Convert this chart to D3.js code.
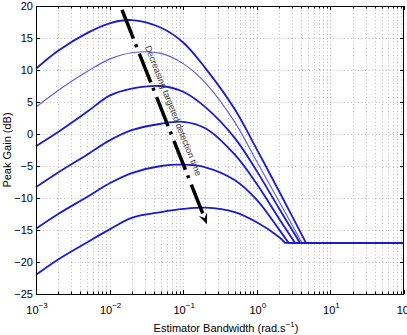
<!DOCTYPE html>
<html>
<head>
<meta charset="utf-8">
<script src="https://cdn.jsdelivr.net/npm/d3@7"></script>
<style>
  body { margin: 0; background: #fff; }
  svg { display: block; font-family: "Liberation Sans", Arial, sans-serif; }
</style>
</head>
<body>
<svg id="chart" width="407" height="335"></svg>
<script>
// sampled bandwidths (rad/s) shared by every curve
var bandwidth = [0.001, 0.002, 0.005, 0.01, 0.02, 0.05, 0.1, 0.2, 0.5, 1, 2];

// peak gain (dB) of each curve at those bandwidths, top to bottom
var gain1 = [10.2, 13.0, 15.8, 17.3, 17.8, 16.6, 14.3, 10.3, 3.9, -2.4, -8.9];
var gain2 = [4.2, 6.8, 9.8, 11.7, 12.7, 12.6, 11.0, 8.0, 1.9, -4.3, -10.5];
var gain3 = [-1.9, 0.3, 3.5, 6.0, 7.1, 7.5, 6.6, 4.2, -0.6, -5.8, -11.6];
var gain4 = [-8.3, -6.0, -3.2, -1.0, 0.6, 1.6, 1.9, 0.9, -3.2, -7.8, -13.2];
var gain5 = [-14.8, -12.5, -9.8, -7.7, -6.1, -5.0, -4.8, -5.2, -7.2, -10.3, -14.9];
var gain6 = [-22.0, -19.6, -16.9, -14.9, -13.1, -12.2, -11.7, -11.5, -12.2, -13.8, -16.1];

// bandwidth where each curve meets the floor, and the floor itself
var cornerBandwidth = [4.66, 4.1, 3.86, 3.3, 2.7, 2.42];
var floorGain = -17;
var thinCurve = [false, true, false, false, false, false];

var xTicks = [1e-3, 1e-2, 1e-1, 1e0, 1e1, 1e2];
var xTickExp = ['\u22123', '\u22122', '\u22121', '0', '1', '2'];
var yTicks = [-25, -20, -15, -10, -5, 0, 5, 10, 15, 20];

// annotation arrow, in data units: [bandwidth, gain]
var arrowStart = [0.01474, 19.4];
var arrowEnd = [0.2106, -14.1];
var noteAnchor = [0.0300, 13.6];
var noteText = 'Decreasing targeted detection time';

var svg = d3.select('#chart'),
    margin = {top: 6, right: 3, bottom: 41, left: 36},
    width = +svg.attr('width') - margin.left - margin.right,
    height = +svg.attr('height') - margin.top - margin.bottom,
    g = svg.append('g').attr('transform', 'translate(' + margin.left + ',' + margin.top + ')');

var x = d3.scaleLog().domain([1e-3, 1e2]).range([0, width]);
var y = d3.scaleLinear().domain([-25, 20]).range([height, 0]);

var minorTicks = [];
xTicks.slice(0, -1).forEach(function(t) {
  for (var k = 2; k < 10; k++) minorTicks.push(k * t);
});

// dotted grid
var grid = g.append('g').attr('stroke', '#acacac').attr('stroke-width', 0.8)
    .attr('stroke-dasharray', '1,2.5');
grid.selectAll('.vg')
    .data(xTicks.slice(1, -1).concat(minorTicks)).enter()
    .append('line')
    .attr('x1', function(d) { return Math.round(x(d)) + 0.5; })
    .attr('x2', function(d) { return Math.round(x(d)) + 0.5; })
    .attr('y1', 0).attr('y2', height);
grid.selectAll('.hg')
    .data(yTicks.slice(1, -1)).enter()
    .append('line')
    .attr('x1', 0).attr('x2', width)
    .attr('y1', function(d) { return Math.round(y(d)) + 0.5; })
    .attr('y2', function(d) { return Math.round(y(d)) + 0.5; });

// curves
var gains = [gain1, gain2, gain3, gain4, gain5, gain6];
var line = d3.line()
    .x(function(d) { return x(d[0]); })
    .y(function(d) { return y(d[1]); })
    .curve(d3.curveCatmullRom.alpha(0.5));

g.append('g').attr('fill', 'none')
  .selectAll('path')
  .data(gains).enter()
  .append('path')
    .attr('d', function(gs, i) {
      var pts = bandwidth.map(function(b, j) { return [b, gs[j]]; });
      pts.push([cornerBandwidth[i], floorGain]);
      return line(pts) + 'L' + x(1e2) + ',' + y(floorGain);
    })
    .attr('stroke', function(d, i) { return thinCurve[i] ? '#5a5ae2' : '#1a1ad6'; })
    .attr('stroke-width', function(d, i) { return thinCurve[i] ? 1.1 : 1.8; })
    .attr('stroke-linejoin', 'round');

// arrow
var ax0 = x(arrowStart[0]), ay0 = y(arrowStart[1]),
    ax1 = x(arrowEnd[0]), ay1 = y(arrowEnd[1]);
var len = Math.sqrt((ax1 - ax0) * (ax1 - ax0) + (ay1 - ay0) * (ay1 - ay0)),
    ux = (ax1 - ax0) / len, uy = (ay1 - ay0) / len;

g.append('line')
    .attr('x1', ax0).attr('y1', ay0)
    .attr('x2', ax1 - ux * 7).attr('y2', ay1 - uy * 7)
    .attr('stroke', '#000')
    .attr('stroke-width', 3.5)
    .attr('stroke-dasharray', '31,6,3,7');

var hl = 11, hw = 4.5;
g.append('path')
    .attr('d', 'M' + ax1 + ',' + ay1 +
      'L' + (ax1 - ux * hl - uy * hw) + ',' + (ay1 - uy * hl + ux * hw) +
      'L' + (ax1 - ux * hl * 0.6) + ',' + (ay1 - uy * hl * 0.6) +
      'L' + (ax1 - ux * hl + uy * hw) + ',' + (ay1 - uy * hl - ux * hw) + 'Z')
    .attr('fill', '#000');

var angle = Math.atan2(uy, ux) * 180 / Math.PI;
g.append('text')
    .attr('transform', 'translate(' + x(noteAnchor[0]) + ',' + y(noteAnchor[1]) + ') rotate(' + angle + ')')
    .attr('font-size', 9)
    .attr('fill', '#333')
    .text(noteText);

// frame
g.append('rect')
    .attr('x', 0.5).attr('y', 0.5)
    .attr('width', width - 1).attr('height', height)
    .attr('fill', 'none')
    .attr('stroke', '#000')
    .attr('stroke-width', 1);

// ticks (inward) on all four sides
var ticks = g.append('g').attr('stroke', '#000').attr('stroke-width', 1);
[[0, 1], [height, -1]].forEach(function(s) {
  ticks.selectAll(null).data(xTicks).enter().append('line')
      .attr('x1', function(d) { return Math.round(x(d)) + 0.5; })
      .attr('x2', function(d) { return Math.round(x(d)) + 0.5; })
      .attr('y1', s[0]).attr('y2', s[0] + s[1] * 4);
  ticks.selectAll(null).data(minorTicks).enter().append('line')
      .attr('x1', function(d) { return Math.round(x(d)) + 0.5; })
      .attr('x2', function(d) { return Math.round(x(d)) + 0.5; })
      .attr('y1', s[0]).attr('y2', s[0] + s[1] * 2.5);
});
[[0, 1], [width, -1]].forEach(function(s) {
  ticks.selectAll(null).data(yTicks).enter().append('line')
      .attr('y1', function(d) { return Math.round(y(d)) + 0.5; })
      .attr('y2', function(d) { return Math.round(y(d)) + 0.5; })
      .attr('x1', s[0]).attr('x2', s[0] + s[1] * 4);
});

// tick labels
g.append('g')
    .attr('font-size', 11)
    .attr('text-anchor', 'end')
  .selectAll('text')
  .data(yTicks).enter()
  .append('text')
    .attr('x', -3)
    .attr('y', function(d) { return y(d); })
    .attr('dy', '0.36em')
    .text(function(d) { return d < 0 ? '\u2212' + (-d) : d; });

var xl = g.append('g')
    .attr('font-size', 11)
    .attr('text-anchor', 'middle')
  .selectAll('text')
  .data(xTicks).enter()
  .append('text')
    .attr('x', function(d) { return x(d) + 1; })
    .attr('y', height + 20);
xl.append('tspan').text('10');
xl.append('tspan')
    .attr('font-size', 8)
    .attr('dy', -6)
    .text(function(d, i) { return xTickExp[i]; });

// axis titles
var xt = svg.append('text')
    .attr('x', 226)
    .attr('y', 332)
    .attr('font-size', 11)
    .attr('text-anchor', 'middle');
xt.append('tspan').text('Estimator Bandwidth (rad.s');
xt.append('tspan').attr('font-size', 8).attr('dy', -5).text('\u22121');
xt.append('tspan').attr('dy', 5).text(')');

svg.append('text')
    .attr('transform', 'translate(11,' + (margin.top + height / 2) + ') rotate(-90)')
    .attr('font-size', 11)
    .attr('text-anchor', 'middle')
    .text('Peak Gain (dB)');
</script>
</body>
</html>
